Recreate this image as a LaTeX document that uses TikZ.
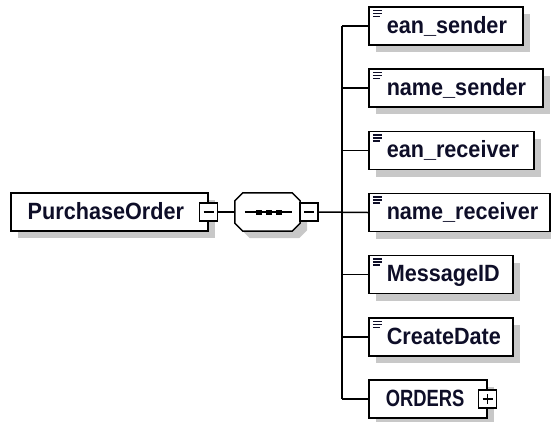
\documentclass[tikz,border=0pt]{standalone}
\usepackage{fontspec}
\setmainfont{Liberation Sans}[FakeStretch=0.92]
\usetikzlibrary{shadows}
\definecolor{shade}{RGB}{200,200,200}
\definecolor{ink}{RGB}{14,14,40}
\tikzset{
  elembox/.style={draw=black, line width=1.5pt, fill=white,
    general shadow={fill=shade, shadow xshift=7pt, shadow yshift=-7pt},
    inner sep=0pt, minimum height=38pt, anchor=west, align=left,
    text height=17pt, text depth=3pt,
    font=\fontsize{23.5}{26}\selectfont\bfseries, text=ink},
  simple/.style={path picture={
    \draw[line width=1.3pt, ink]
      ([shift={(4pt,-3.5pt)}]path picture bounding box.north west) -- ++(9pt,0pt)
      ([shift={(4pt,-6.5pt)}]path picture bounding box.north west) -- ++(9pt,0pt)
      ([shift={(4pt,-9.5pt)}]path picture bounding box.north west) -- ++(7pt,0pt);}},
  conn/.style={line width=1.5pt, draw=black},
  toggle/.style={draw=black, line width=1.5pt, fill=white, minimum size=18pt, inner sep=0pt},
  minus/.style={toggle, path picture={\draw[line width=1.3pt]
      ([xshift=-5pt]path picture bounding box.center) -- ([xshift=5pt]path picture bounding box.center);}},
  plus/.style={toggle, path picture={\draw[line width=1.3pt]
      ([xshift=-5pt]path picture bounding box.center) -- ([xshift=5pt]path picture bounding box.center)
      ([yshift=-5pt]path picture bounding box.center) -- ([yshift=5pt]path picture bounding box.center);}},
  octo/.style={draw=black, line width=1.5pt, fill=white,
    general shadow={fill=shade, shadow xshift=7pt, shadow yshift=-7pt}},
}
\begin{document}
\begin{tikzpicture}[x=1pt, y=-1pt]
\useasboundingbox (0,0) rectangle (551,421);

% root element
\node[elembox, text width=197pt] (po) at (10,212) {\hspace*{17pt}PurchaseOrder};

% sequence compositor
\node[inner sep=0pt, minimum width=65pt, minimum height=38pt] (seq) at (267.5,212) {};
\draw[octo] ([yshift=-8pt]seq.north west) -- ([xshift=8pt]seq.north west)
  -- ([xshift=-8pt]seq.north east) -- ([yshift=-8pt]seq.north east)
  -- ([yshift=8pt]seq.south east) -- ([xshift=-8pt]seq.south east)
  -- ([xshift=8pt]seq.south west) -- ([yshift=8pt]seq.south west) -- cycle;
\draw[line width=1.4pt] ([xshift=10pt]seq.west) -- ([xshift=-8pt]seq.east);
\foreach \dx in {-9,1,11}
  \fill ([shift={(\dx pt-3pt,2.5pt)}]seq.center) rectangle ++(6pt,-5pt);

% children
\node[elembox, simple, text width=154pt] (es) at (368,26)    {\hspace*{18pt}ean\_sender};
\node[elembox, simple, text width=174pt] (ns) at (368,88)    {\hspace*{18pt}name\_sender};
\node[elembox, simple, text width=165pt] (er) at (368,150.5) {\hspace*{18pt}ean\_receiver};
\node[elembox, simple, text width=181pt] (nr) at (368,212.5) {\hspace*{18pt}name\_receiver};
\node[elembox, simple, text width=144pt] (mi) at (368,274.5) {\hspace*{18pt}MessageID};
\node[elembox, simple, text width=144pt] (cd) at (368,337)   {\hspace*{18pt}CreateDate};
\node[elembox, text width=118pt] (ord) at (368,399) {\hspace*{17pt}\scalebox{0.85}[1]{ORDERS}};

% toggles
\node[minus] (poT) at (po.east) {};
\node[minus] (seqT) at ([xshift=9pt]seq.east) {};
\node[plus] (ordT) at (ord.east) {};

% connectors
\coordinate (bus) at (342,212.5);
\draw[conn] (poT.east) -- (seq.west);
\draw[conn] (seqT.east) -- (nr.west);
\draw[conn] (es.west -| bus) -- (ord.west -| bus);
\foreach \c in {es,ns,er,mi,cd,ord}
  \draw[conn] (\c.west -| bus) -- (\c.west);
\end{tikzpicture}
\end{document}
